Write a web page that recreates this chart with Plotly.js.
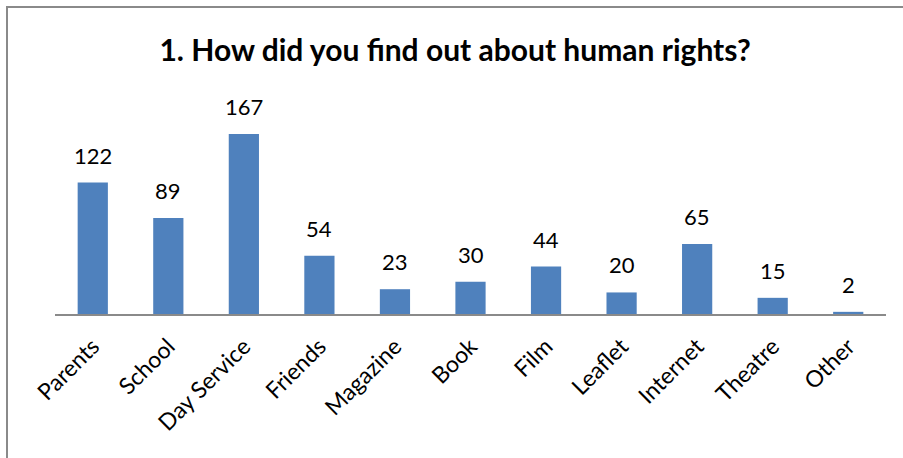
<!DOCTYPE html>
<html>
<head>
<meta charset="utf-8">
<script src="https://cdn.plot.ly/plotly-3.0.1.min.js"></script>
<style>
html,body{margin:0;padding:0;background:#fff;}
#wrap{position:relative;width:903px;height:458px;overflow:hidden;}
#chart{width:903px;height:458px;}
#frame{position:absolute;left:6px;top:6px;width:920px;height:480px;border-top:2px solid #8a8a8a;border-left:2px solid #8a8a8a;pointer-events:none;}
</style>
</head>
<body>
<div id="wrap"><div id="chart"></div><div id="frame"></div></div>
<script>
const categories = ["Parents","School","Day Service","Friends","Magazine","Book","Film","Leaflet","Internet","Theatre","Other"];
const counts = [122, 89, 167, 54, 23, 30, 44, 20, 65, 15, 2];
const titleText = "1. How did you find out about human rights?";

const trace = {
  type: "bar",
  x: categories,
  y: counts,
  marker: {color: "#4F81BD"},
  hoverinfo: "none"
};

const labels = categories.map((c, i) => ({
  x: c, y: counts[i], xref: "x", yref: "y",
  text: String(counts[i]), showarrow: false,
  yanchor: "bottom", yshift: 12,
  font: {family: "Lato, sans-serif", size: 22, color: "#000"}
}));

const layout = {
  width: 903, height: 458,
  margin: {l: 55, r: 17, t: 120, b: 144},
  paper_bgcolor: "#fff", plot_bgcolor: "#fff",
  showlegend: false,
  bargap: 0.6,
  title: {text: "<b>" + titleText + "</b>", x: 0.504, xanchor: "center", y: 0.89, yanchor: "middle",
          font: {family: "Lato, sans-serif", size: 30, color: "#000"}},
  xaxis: {tickangle: -45, showline: true, linecolor: "#8a8a8a", linewidth: 2, ticks: "",
          ticklabelstandoff: 8,
          tickfont: {family: "Lato, sans-serif", size: 23, color: "#000"}, fixedrange: true},
  yaxis: {range: [0, 180], visible: false, showgrid: false, zeroline: false, fixedrange: true},
  annotations: labels,
  font: {family: "Lato, sans-serif"}
};

Plotly.newPlot("chart", [trace], layout, {displayModeBar: false, staticPlot: true});
</script>
</body>
</html>
